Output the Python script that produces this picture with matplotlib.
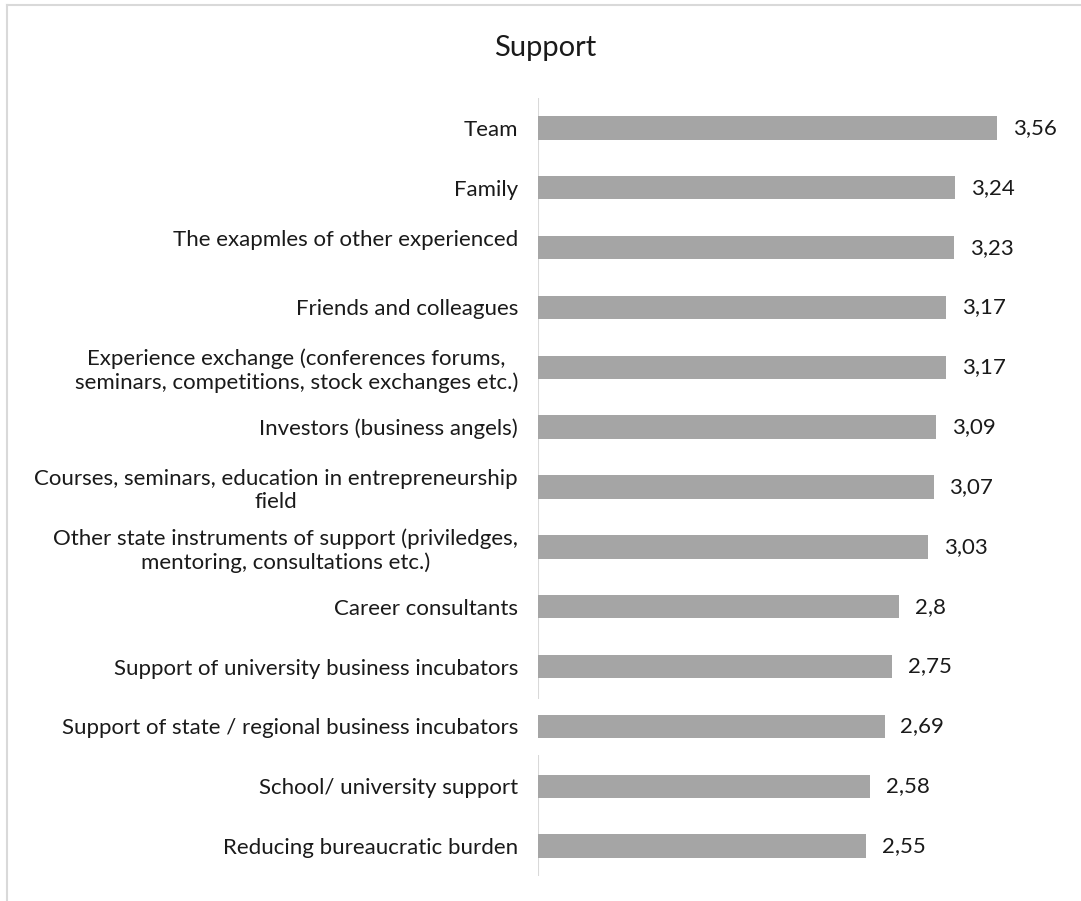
import matplotlib
matplotlib.use("Agg")
import matplotlib.pyplot as plt
from matplotlib.lines import Line2D

plt.rcParams['font.family'] = ['Lato', 'DejaVu Sans']

# data (top to bottom as in the chart)
categories = [
    "Team",
    "Family",
    "The exapmles of other experienced\n",
    "Friends and colleagues",
    "Experience exchange (conferences forums,\nseminars, competitions, stock exchanges etc.)",
    "Investors (business angels)",
    "Courses, seminars, education in entrepreneurship\nfield",
    "Other state instruments of support (priviledges,\nmentoring, consultations etc.)",
    "Career consultants",
    "Support of university business incubators",
    "Support of state / regional business incubators",
    "School/ university support",
    "Reducing bureaucratic burden",
]
scores = [3.56, 3.24, 3.23, 3.17, 3.17, 3.09, 3.07, 3.03, 2.80, 2.75, 2.69, 2.58, 2.55]
score_labels = ["3,56", "3,24", "3,23", "3,17", "3,17", "3,09", "3,07", "3,03",
                "2,8", "2,75", "2,69", "2,58", "2,55"]

BAR_COLOR = "#A5A5A5"
AXIS_COLOR = "#D9D9D9"
TEXT_COLOR = "#1a1a1a"

W, H = 1081, 901
fig = plt.figure(figsize=(W / 100, H / 100), dpi=100)
ax = fig.add_axes([537.5 / W, 25 / H, 516 / W, 778 / H])

pos = list(range(len(categories)))
ax.barh(pos, scores, height=0.39, color=BAR_COLOR, zorder=2)

ax.set_xlim(0, 4)
ax.set_ylim(len(categories) - 0.5, -0.5)

for s in ax.spines.values():
    s.set_visible(False)
ax.set_xticks([])
ax.set_yticks(pos)
ax.set_yticklabels(categories, fontsize=16, color=TEXT_COLOR)
ax.tick_params(axis='y', length=0, pad=14)
for lab in ax.get_yticklabels():
    lab.set_multialignment('center')
    lab.set_linespacing(1.2)

# vertical category axis, hidden behind the widest label as in the source
gap = categories.index("Support of state / regional business incubators")
ax.vlines(0, -0.5, gap - 0.46, color=AXIS_COLOR, lw=1.5, zorder=1)
ax.vlines(0, gap + 0.48, len(categories) - 0.5, color=AXIS_COLOR, lw=1.5, zorder=1)

for p, v, t in zip(pos, scores, score_labels):
    ax.annotate(t, (v, p), xytext=(11.5, 0), textcoords='offset points',
                ha='left', va='center', fontsize=16, color=TEXT_COLOR)

fig.text(545 / W, 1 - 56 / H, "Support", ha='center', va='baseline',
         fontsize=21, color=TEXT_COLOR)

# chart border (only top and left edges are inside the crop)
fig.add_artist(Line2D([7 / W, 1], [1 - 5 / H, 1 - 5 / H], color=AXIS_COLOR, lw=1.5))
fig.add_artist(Line2D([7 / W, 7 / W], [0, 1 - 5 / H], color=AXIS_COLOR, lw=1.5))

fig.savefig("out.png", dpi=100)
